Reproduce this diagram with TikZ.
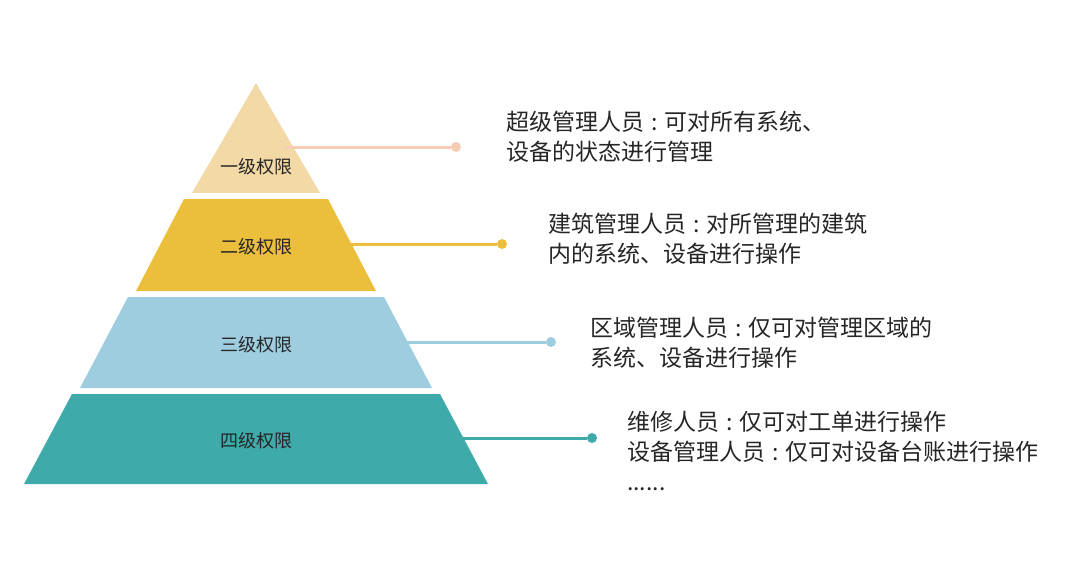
\documentclass[tikz,border=0pt]{standalone}
\usepackage{fontspec}
\setmainfont{Noto Sans CJK SC}
\newcommand{\cln}{\hspace{0.3em}:\hspace{0.3em}}
\begin{document}
\begin{tikzpicture}[x=1pt,y=-1pt,
  tier/.style={font=\fontsize{18}{20}\selectfont, text=black!85},
  desc/.style={font=\fontsize{23}{30}\selectfont, text=black!85, anchor=west, align=left, inner sep=0pt},
  lead/.style={line width=3pt},
  dot/.style={circle, inner sep=0pt, minimum size=10pt}]
\useasboundingbox (0,0) rectangle (1080,566);
\definecolor{cA}{HTML}{F2D9A6}\definecolor{cAl}{HTML}{F6CDB4}
\definecolor{cB}{HTML}{EBBE3C}
\definecolor{cC}{HTML}{9ECDE0}
\definecolor{cD}{HTML}{3FAAAA}
\fill[cA] (256,83) -- (320,193) -- (192,193) -- cycle;
\fill[cB] (184,199) -- (328,199) -- (376,291) -- (136,291) -- cycle;
\fill[cC] (128,297) -- (384,297) -- (432,388) -- (80,388) -- cycle;
\fill[cD] (72,394) -- (440,394) -- (488,484) -- (24,484) -- cycle;
\node[tier] (t1) at (256,167) {一级权限};
\node[tier] (t2) at (256,247) {二级权限};
\node[tier] (t3) at (256,345) {三级权限};
\node[tier] (t4) at (256,441) {四级权限};
\coordinate (s1) at (285,147); \node[dot,fill=cAl] (d1) at (456,147) {};
\coordinate (s2) at (350,244); \node[dot,fill=cB] (d2) at (502,244) {};
\coordinate (s3) at (406,342); \node[dot,fill=cC] (d3) at (551,342) {};
\coordinate (s4) at (462,438); \node[dot,fill=cD] (d4) at (592,438) {};
\draw[lead,cAl] (s1) -- (d1);
\draw[lead,cB] (s2) -- (d2);
\draw[lead,cC] (s3) -- (d3);
\draw[lead,cD] (s4) -- (d4);
\node[desc] (x1) at (506,137) {超级管理人员\cln 可对所有系统、\\设备的状态进行管理};
\node[desc] (x2) at (548,239) {建筑管理人员\cln 对所管理的建筑\\内的系统、设备进行操作};
\node[desc] (x3) at (590,343) {区域管理人员\cln 仅可对管理区域的\\系统、设备进行操作};
\node[desc] (x4) at (627,451) {维修人员\cln 仅可对工单进行操作\\设备管理人员\cln 仅可对设备台账进行操作\\......};
\end{tikzpicture}
\end{document}
